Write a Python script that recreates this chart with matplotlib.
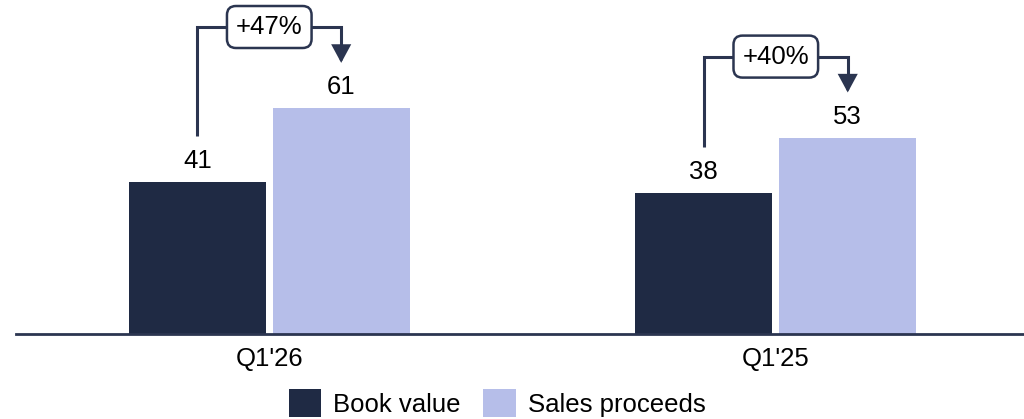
import matplotlib.pyplot as plt
import numpy as np

plt.rcParams['font.family'] = ['Liberation Sans', 'DejaVu Sans']

periods = ["Q1'26", "Q1'25"]
book_value = [41, 38]
sales_proceeds = [61, 53]
uplift = ["+47%", "+40%"]

dark = '#1f2a44'
light = '#b6bee9'
line_col = '#2b3550'
fs = 18.5

fig = plt.figure(figsize=(10.24, 4.19), dpi=100)
ax = fig.add_axes([16 / 1024, 85 / 419, 1008 / 1024, 334 / 419])

x = np.arange(len(periods))
off = 0.142
w = 0.27
ax.bar(x - off, book_value, w, color=dark, label='Book value')
ax.bar(x + off, sales_proceeds, w, color=light, label='Sales proceeds')

for i in range(len(periods)):
    for xx, v in ((x[i] - off, book_value[i]), (x[i] + off, sales_proceeds[i])):
        ax.text(xx, v + 5.8, str(v), ha='center', va='center', fontsize=fs)

    # bracket with growth label
    y_h = max(book_value[i], sales_proceeds[i]) + 22
    y_start = book_value[i] + 12.5
    y_tip = sales_proceeds[i] + 12.3
    ax.plot([x[i] - off, x[i] - off, x[i]], [y_start, y_h, y_h],
            color=line_col, lw=2.2, solid_joinstyle='miter',
            solid_capstyle='butt', zorder=2)
    ax.plot([x[i], x[i] + off, x[i] + off], [y_h, y_h, y_tip + 3],
            color=line_col, lw=2.2, solid_joinstyle='miter',
            solid_capstyle='butt', zorder=2)
    ax.annotate('', xy=(x[i] + off, y_tip), xytext=(x[i] + off, y_tip + 3.5),
                arrowprops=dict(arrowstyle='-|>,head_length=0.5,head_width=0.27',
                                color=line_col, lw=2.2, shrinkA=0, shrinkB=0,
                                mutation_scale=20, joinstyle='miter'))
    ax.text(x[i], y_h, uplift[i], ha='center', va='center', fontsize=fs, zorder=3,
            bbox=dict(boxstyle='round,pad=0.35,rounding_size=0.35',
                      fc='white', ec=line_col, lw=1.8))

ax.set_xlim(-0.5, 1.49)
ax.set_ylim(0, 90.3)
ax.set_xticks(x)
ax.set_xticklabels(periods, fontsize=fs)
ax.tick_params(axis='x', length=0, pad=9)
ax.set_yticks([])
for s in ['top', 'right', 'left']:
    ax.spines[s].set_visible(False)
ax.spines['bottom'].set_color(line_col)
ax.spines['bottom'].set_linewidth(2)

fig.legend(loc='center', bbox_to_anchor=(497 / 1024, 1 - 403 / 419), ncol=2,
           frameon=False, fontsize=fs, handlelength=1.25, handleheight=1.25,
           handletextpad=0.47, columnspacing=0.9, borderpad=0)

fig.savefig('out.png', dpi=100)
